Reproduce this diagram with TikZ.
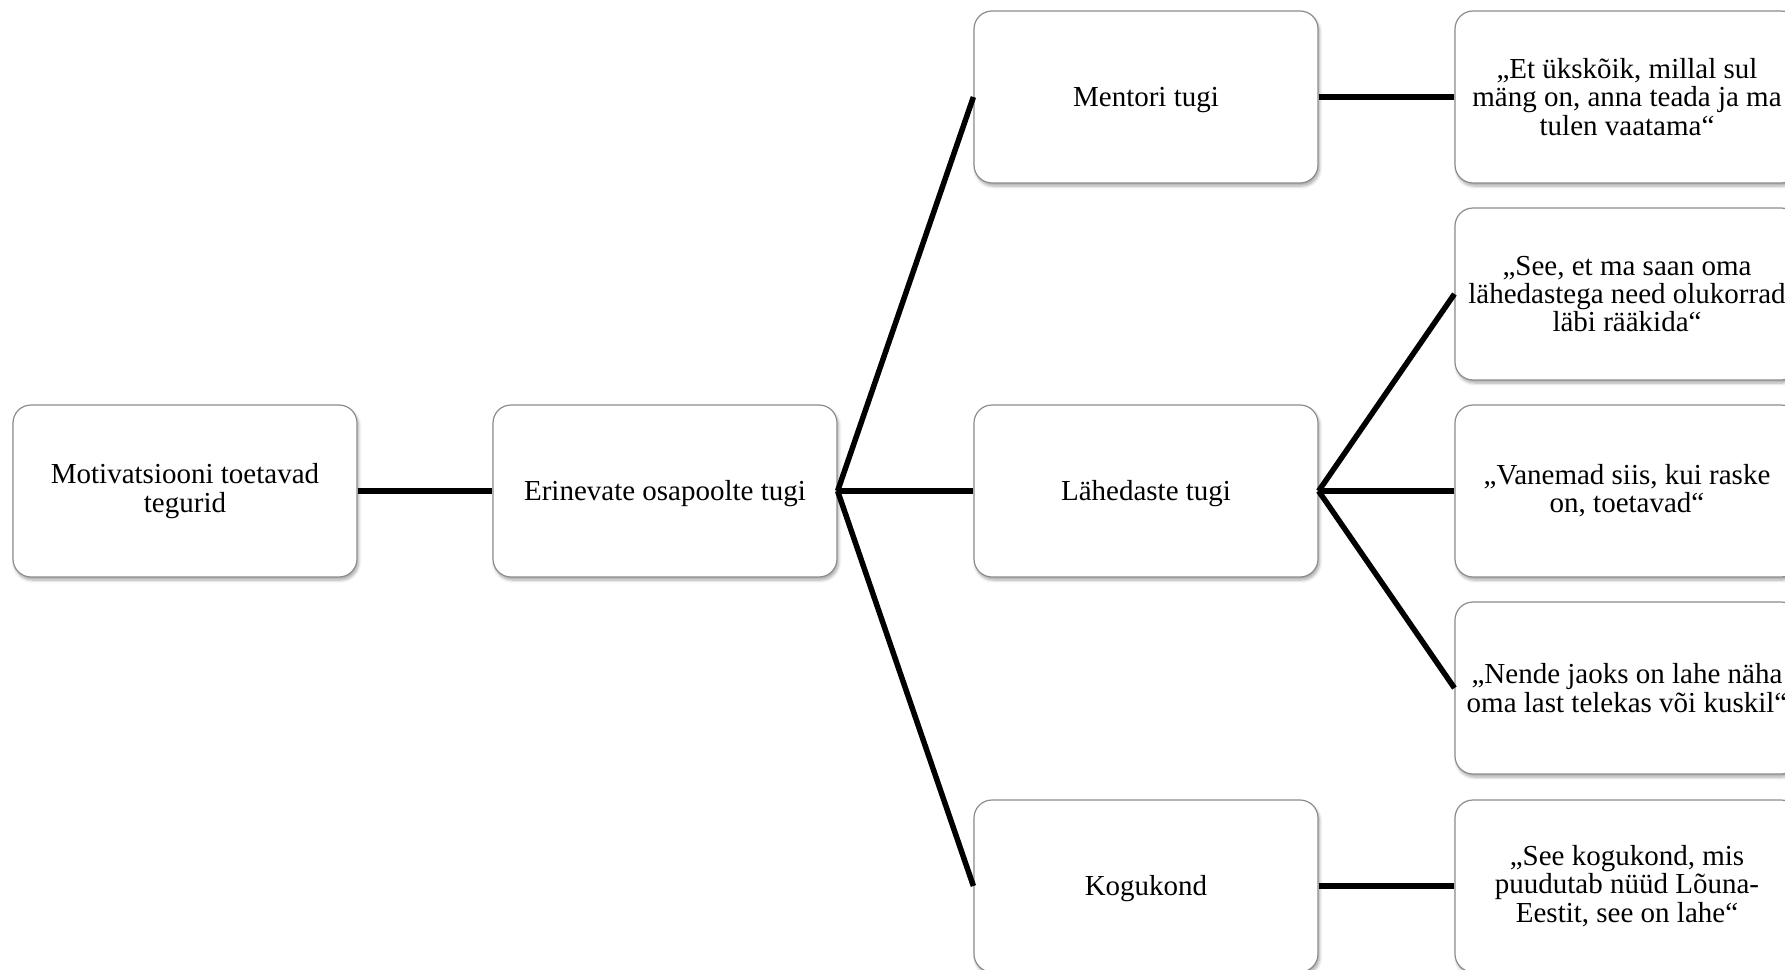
\documentclass[tikz,border=0pt]{standalone}
\usepackage{fontspec}
\setmainfont{Liberation Serif}
\usetikzlibrary{shadows.blur}
\begin{document}
\begin{tikzpicture}[x=1pt,y=-1pt,
  box/.style={draw=black!45, line width=1.2pt, fill=white, rounded corners=18pt,
    minimum width=344pt, minimum height=172pt, inner sep=0pt, align=center,
    font=\fontsize{29}{28.3}\selectfont,
    execute at begin node={\rule{0pt}{26pt}},
    blur shadow={shadow xshift=1.5pt, shadow yshift=-3pt, shadow blur steps=6, shadow blur radius=3pt, shadow opacity=35}},
  link/.style={line width=5.5pt, black}]
\useasboundingbox (0,0) rectangle (1785,969);
\node[box] (m) at (185,491) {Motivatsiooni toetavad\\tegurid};
\node[box] (e) at (665,491) {Erinevate osapoolte tugi};
\node[box] (mt) at (1146,97) {Mentori tugi};
\node[box] (lt) at (1146,491) {Lähedaste tugi};
\node[box] (kg) at (1146,886) {Kogukond};
\node[box] (q1) at (1627,97) {„Et ükskõik, millal sul\\mäng on, anna teada ja ma\\tulen vaatama“};
\node[box] (q2) at (1627,294) {„See, et ma saan oma\\lähedastega need olukorrad\\läbi rääkida“};
\node[box] (q3) at (1627,491) {„Vanemad siis, kui raske\\on, toetavad“};
\node[box] (q4) at (1627,688) {„Nende jaoks on lahe näha\\oma last telekas või kuskil“};
\node[box] (q5) at (1627,886) {„See kogukond, mis\\puudutab nüüd Lõuna-\\Eestit, see on lahe“};
\draw[link] (m.east) -- (e.east -| e.west);
\draw[link] (e.east) -- (mt.west);
\draw[link] (e.east) -- (lt.west);
\draw[link] (e.east) -- (kg.west);
\draw[link] (mt.east) -- (q1.west);
\draw[link] (lt.east) -- (q2.west);
\draw[link] (lt.east) -- (q3.west);
\draw[link] (lt.east) -- (q4.west);
\draw[link] (kg.east) -- (q5.west);
\end{tikzpicture}
\end{document}
